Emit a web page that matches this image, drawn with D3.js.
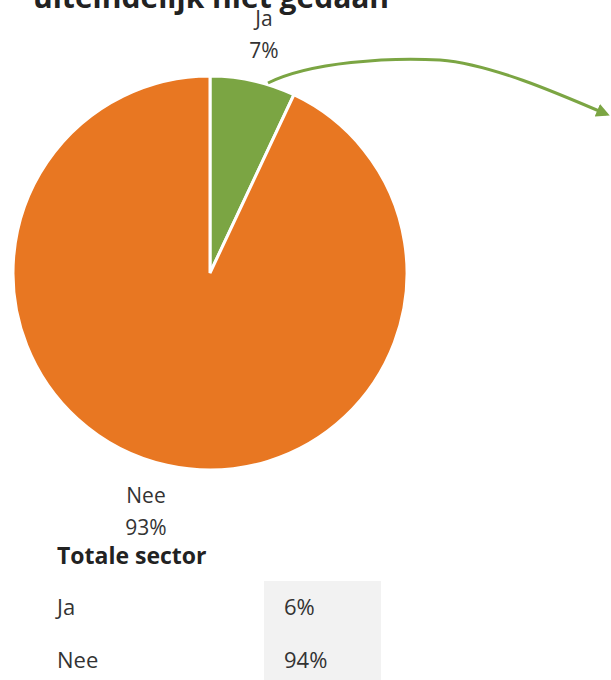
<!DOCTYPE html>
<html>
<head>
<meta charset="utf-8">
<script src="https://cdn.jsdelivr.net/npm/d3@7"></script>
<style>
  body { margin: 0; background: #fff; }
  svg { display: block; font-family: "Open Sans", sans-serif; }
</style>
</head>
<body>
<div id="chart"></div>
<script>
const categories = ["Ja", "Nee"];
const values = [7, 93];
const colors = ["#7BA543", "#E87722"];
const tableTitle = "Totale sector";
const tableCategories = ["Ja", "Nee"];
const tableValues = ["6%", "94%"];

const width = 611, height = 680;
const cx = 210, cy = 273, radius = 197;

const svg = d3.select("#chart").append("svg")
    .attr("width", width)
    .attr("height", height);

// title, cut off by the top edge in the original
svg.append("text")
    .attr("x", 33)
    .attr("y", 8)
    .text("uiteindelijk niet gedaan")
    .attr("font-size", "30px")
    .attr("font-weight", "bold")
    .attr("fill", "#222");

const pie = d3.pie().sort(null);
const arc = d3.arc().innerRadius(0).outerRadius(radius);

const g = svg.append("g").attr("transform", `translate(${cx},${cy})`);

g.selectAll("path")
    .data(pie(values))
    .enter()
    .append("path")
    .attr("d", arc)
    .attr("fill", (d, i) => colors[i])
    .attr("stroke", "#fff")
    .attr("stroke-width", 3);

// labels
const labelPos = [[264, 19], [146, 496]];
categories.forEach((c, i) => {
    const t = svg.append("text")
        .attr("x", labelPos[i][0])
        .attr("y", labelPos[i][1])
        .attr("text-anchor", "middle")
        .attr("font-size", "21px")
        .attr("fill", "#333");
    t.append("tspan").attr("x", labelPos[i][0]).attr("dy", "0.35em").text(c);
    t.append("tspan").attr("x", labelPos[i][0]).attr("dy", "1.5em").text(values[i] + "%");
});

// arrow
svg.append("defs").append("marker")
    .attr("id", "head")
    .attr("viewBox", "0 0 10 10")
    .attr("refX", 7).attr("refY", 5)
    .attr("markerWidth", 4.5).attr("markerHeight", 4.5)
    .attr("orient", "auto")
    .append("path")
    .attr("d", "M0,0L10,5L0,10z")
    .attr("fill", "#7BA543");

const p = d3.path();
p.moveTo(268, 83);
p.bezierCurveTo(310, 62, 390, 57, 440, 60);
p.bezierCurveTo(490, 64, 555, 92, 606, 114);
svg.append("path")
    .attr("d", p.toString())
    .attr("fill", "none")
    .attr("stroke", "#7BA543")
    .attr("stroke-width", 3)
    .attr("marker-end", "url(#head)");

// table
svg.append("text")
    .attr("x", 57).attr("y", 564)
    .text(tableTitle)
    .attr("font-size", "23px")
    .attr("font-weight", "bold")
    .attr("fill", "#222");

const rowY = d3.scaleBand().domain(tableCategories).range([581, 687]);

svg.append("rect")
    .attr("x", 264).attr("y", rowY.range()[0])
    .attr("width", 117).attr("height", rowY.range()[1] - rowY.range()[0])
    .attr("fill", "#F2F2F2");

tableCategories.forEach((c, i) => {
    const y = rowY(c) + rowY.bandwidth() / 2;
    svg.append("text").attr("x", 57).attr("y", y).attr("dy", "0.35em")
        .text(c).attr("font-size", "22px").attr("fill", "#333");
    svg.append("text").attr("x", 284).attr("y", y).attr("dy", "0.35em")
        .text(tableValues[i]).attr("font-size", "22px").attr("fill", "#333");
});
</script>
</body>
</html>
